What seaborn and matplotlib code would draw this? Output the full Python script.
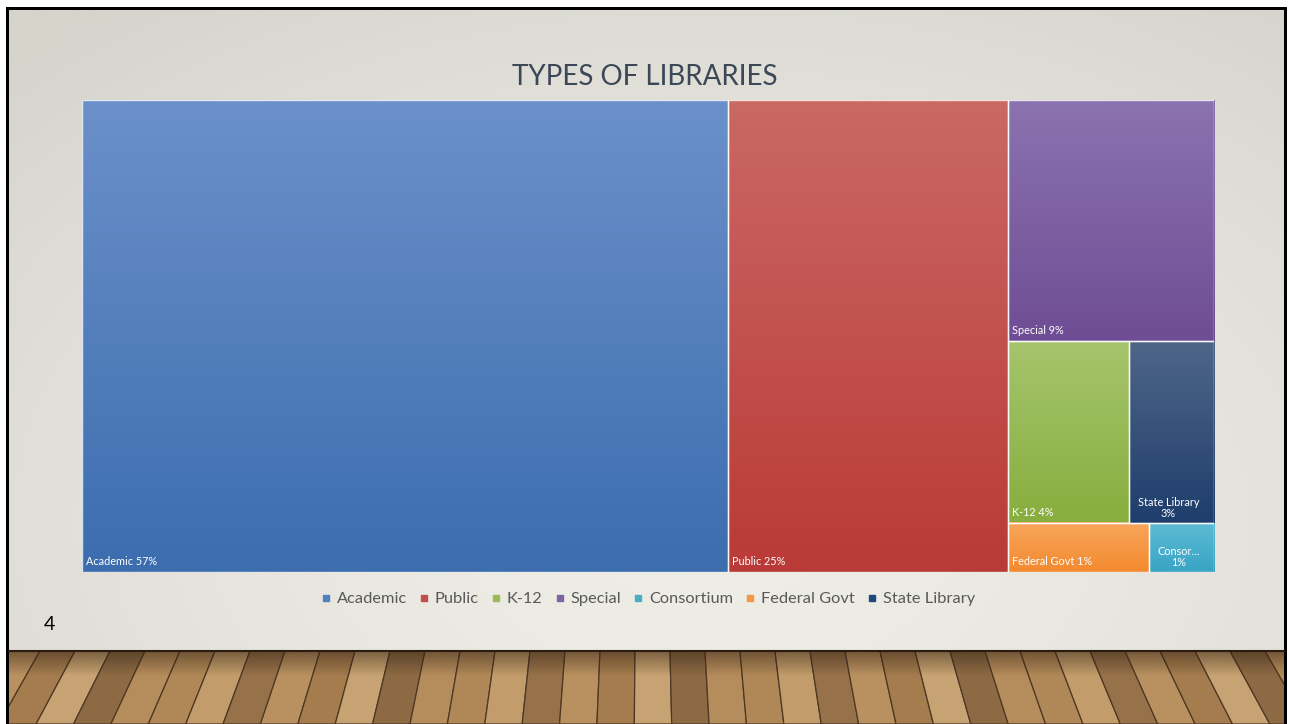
import numpy as np
import matplotlib
matplotlib.use("Agg")
import matplotlib.pyplot as plt
from matplotlib.patches import Rectangle, Polygon
from matplotlib.lines import Line2D
import matplotlib.colors as mcolors
import seaborn as sns

# ---------------- data ----------------
title = "TYPES OF LIBRARIES"
categories = ["Academic", "Public", "K-12", "Special", "Consortium", "Federal Govt", "State Library"]
shares = [57.0, 24.7, 4.1, 9.3, 0.6, 1.3, 2.9]
tile_labels = ["Academic 57%", "Public 25%", "K-12 4%", "Special 9%",
               "Consor\u2026\n1%", "Federal Govt 1%", "State Library\n3%"]
page_number = "4"

# ---------------- style ----------------
top_colors = ["#6b90c9", "#ca6864", "#a6c46d", "#8b73af", "#5dbcd6", "#f7a65c", "#4e6588"]
bottom_colors = ["#3c6daf", "#ba3a37", "#87ae3e", "#6f4d95", "#39a4c3", "#f38a2f", "#1f3e6c"]
legend_colors = sns.color_palette(["#4f81bd", "#c0504d", "#9bbb59", "#8064a2",
                                   "#4bacc6", "#f79646", "#1f497d"])
# treemap nesting (Excel-like arrangement)
tree = ["Academic", "Public", ["Special", ["K-12", "State Library"], ["Federal Govt", "Consortium"]]]

sns.set_theme(style="white")
plt.rcParams["font.family"] = ["Lato", "DejaVu Sans"]

W, H = 1290, 724
fig = plt.figure(figsize=(W / 100, H / 100), dpi=100)
fig.patch.set_facecolor("white")

# ---------------- slide background ----------------
bg = fig.add_axes([0, 0, 1, 1])
bg.set_axis_off()
bg.add_patch(Rectangle((6, 7), 1281, 717, facecolor="black", edgecolor="none", zorder=0))

sx0, sx1, sy0, sy1 = 9, 1284, 10, 651
yy, xx = np.mgrid[0:1:120j, 0:1:240j]
d = np.sqrt(((xx - 0.55) * 1.3) ** 2 + ((yy - 0.8) * 1.0) ** 2)
f = np.clip(d / 1.0, 0, 1) ** 1.6
c_center = np.array(mcolors.to_rgb("#eeede6"))
c_edge = np.array(mcolors.to_rgb("#d6d4cc"))
img = c_center[None, None, :] * (1 - f[..., None]) + c_edge[None, None, :] * f[..., None]
bg.imshow(img, extent=(sx0, sx1, sy1, sy0), aspect="auto", interpolation="bilinear", zorder=1)

# wood floor
wx0, wx1, wy0, wy1 = 9, 1284, 651, 724
clip = Rectangle((wx0, wy0), wx1 - wx0, wy1 - wy0, transform=bg.transData, facecolor="none", edgecolor="none")
bg.add_patch(clip)
bg.add_patch(Rectangle((wx0, wy0), wx1 - wx0, wy1 - wy0, facecolor="#9a7448", edgecolor="none", zorder=1))
wood_tones = ["#b08858", "#c29c6a", "#97714a", "#b99160", "#a47c4e", "#c7a272", "#8d6a44", "#b58c5b"]
vx, vy = 645, -420
k = (wy1 - vy) / (wy0 - vy)
tops = np.arange(-100, 1400, 35)
for i in range(len(tops) - 1):
    a, b = tops[i], tops[i + 1]
    ab, bb = vx + (a - vx) * k, vx + (b - vx) * k
    p = Polygon([(a, wy0), (b, wy0), (bb, wy1), (ab, wy1)], closed=True,
                facecolor=wood_tones[i % len(wood_tones)], edgecolor="#4e3824", lw=0.9, zorder=2)
    bg.add_patch(p)
    p.set_clip_path(clip)
shade = np.linspace(0.5, 0.0, 40)[:, None]
sh = np.zeros((40, 1, 4))
sh[..., 0:3] = mcolors.to_rgb("#2e1f10")
sh[..., 3] = shade
bg.imshow(sh, extent=(wx0, wx1, wy0 + 25, wy0), aspect="auto", interpolation="bilinear", zorder=3)
bg.plot([wx0, wx1], [wy0, wy0], color="#2a1d10", lw=1.5, zorder=4)

bg.set_xlim(0, W)
bg.set_ylim(H, 0)

# ---------------- treemap ----------------
tx0, tx1, ty0, ty1 = 82, 1214, 100, 572
tm = fig.add_axes([tx0 / W, 1 - ty1 / H, (tx1 - tx0) / W, (ty1 - ty0) / H])
tm.set_axis_off()

val = dict(zip(categories, shares))


def total(node):
    return val[node] if isinstance(node, str) else sum(total(n) for n in node)


def layout(node, x, y, w, h, horiz, out):
    if isinstance(node, str):
        out[node] = (x, y, w, h)
        return
    t = total(node)
    if horiz:
        cx = x
        for n in node:
            ww = w * total(n) / t
            layout(n, cx, y, ww, h, not horiz, out)
            cx += ww
    else:
        cy = y + h
        for n in node:
            hh = h * total(n) / t
            cy -= hh
            layout(n, x, cy, w, hh, not horiz, out)


rects = {}
layout(tree, 0.0, 0.0, 1.0, 1.0, True, rects)

for cat, lab, ct, cb in zip(categories, tile_labels, top_colors, bottom_colors):
    x, y, w, h = rects[cat]
    grad = np.linspace(0, 1, 64)[:, None, None]
    arr = np.array(mcolors.to_rgb(cb))[None, None, :] * (1 - grad) + np.array(mcolors.to_rgb(ct))[None, None, :] * grad
    tm.imshow(arr, extent=(x, x + w, y, y + h), origin="lower", aspect="auto",
              interpolation="bilinear", zorder=1)
    tm.add_patch(Rectangle((x, y), w, h, fill=False, edgecolor="white", lw=1.0, alpha=0.8, zorder=2))
    if "\n" in lab:
        tm.annotate(lab, (x + w / 2, y), xytext=(-2, 3), textcoords="offset points",
                    ha="center", va="bottom", multialignment="center", color="white",
                    fontsize=7.8, linespacing=1.0, zorder=3)
    else:
        tm.annotate(lab, (x, y), xytext=(3, 3.5), textcoords="offset points",
                    ha="left", va="bottom", color="white", fontsize=7.8, zorder=3)
tm.set_xlim(0, 1)
tm.set_ylim(0, 1)

# ---------------- legend ----------------
handles = [Line2D([], [], marker="s", ls="", color=c, markersize=5.0) for c in legend_colors]
fig.legend(handles, categories, loc="center", bbox_to_anchor=(648 / W, 1 - 599 / H),
           ncol=7, frameon=False, fontsize=11.8, labelcolor="#595959",
           handlelength=0.6, handletextpad=0.35, columnspacing=0.75, borderpad=0)

# ---------------- texts ----------------
fig.text(645 / W, 1 - 77 / H, title, ha="center", va="center", fontsize=20, color="#3c4757")
fig.text(49 / W, 1 - 625 / H, page_number, ha="center", va="center", fontsize=14, color="black")

fig.savefig("out.png", dpi=100)
